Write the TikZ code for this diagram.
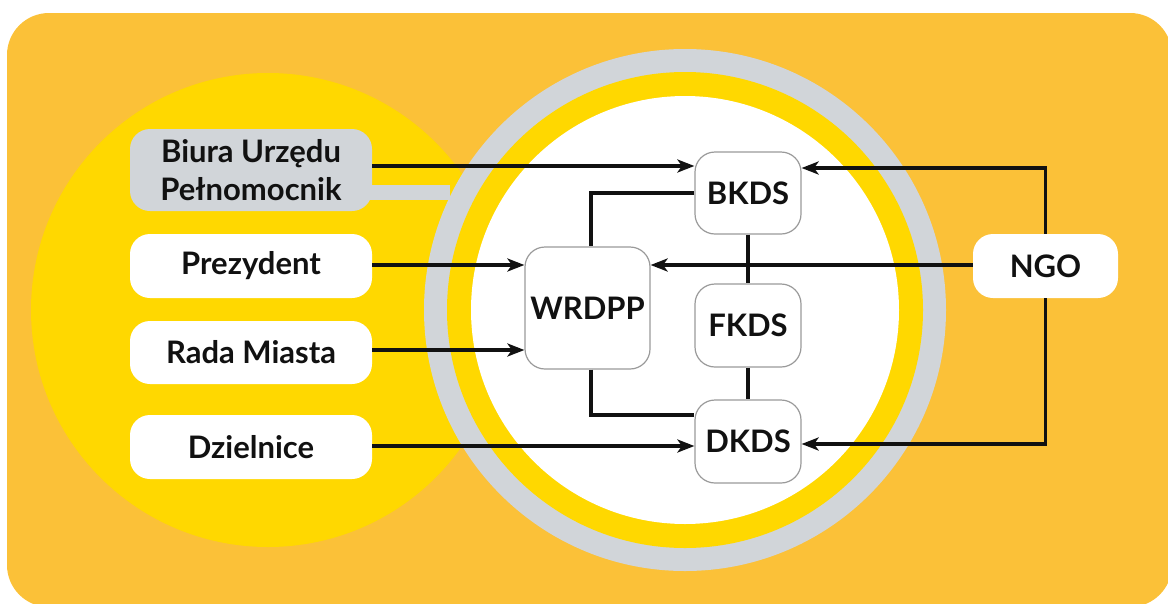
\documentclass[tikz,border=0pt]{standalone}
\usepackage{fontspec}
\setmainfont{Lato}
\usetikzlibrary{arrows.meta}
\definecolor{bgorange}{HTML}{FBC138}
\definecolor{ylw}{HTML}{FFD800}
\definecolor{ringgray}{HTML}{D1D5D9}
\definecolor{bordergray}{HTML}{9A9A9A}
\definecolor{txt}{HTML}{111111}
\begin{document}
\begin{tikzpicture}[x=1pt,y=-1pt,
  lbl/.style={font=\fontsize{31}{38}\selectfont\bfseries, text=txt, align=center, inner sep=0pt},
  leftbox/.style={lbl, fill=white, rounded corners=20pt, minimum width=242pt},
  graybox/.style={leftbox, fill=ringgray},
  midbox/.style={lbl, fill=white, draw=bordergray, line width=1.2pt, rounded corners=20pt},
  conn/.style={line width=3.2pt, draw=txt},
  arr/.style={conn, -{Stealth[length=17pt,width=13pt,inset=4.5pt]}}
]
\useasboundingbox (0,0) rectangle (1168,603);
% background
\fill[bgorange, rounded corners=42pt] (7,13) rectangle (1172,607);
% left yellow circle
\fill[ylw] (268,310) circle[radius=237pt];
% gray band connecting Biura to ring
\fill[ringgray] (350,185) rectangle (450,200);
% big ring
\fill[ringgray] (685,310) circle[radius=261pt];
\fill[ylw] (685,310) circle[radius=238pt];
\fill[white] (685,310) circle[radius=214pt];

% left boxes
\node[graybox, minimum height=82pt] (biura) at (251,170) {Biura Urzędu\\Pełnomocnik};
\node[leftbox, minimum height=64pt] (prez) at (251,266) {Prezydent};
\node[leftbox, minimum height=63pt] (rada) at (251,352.5) {Rada Miasta};
\node[leftbox, minimum height=64pt] (dziel) at (251,447) {Dzielnice};

% central boxes
\node[midbox, minimum width=106pt, minimum height=82pt] (bkds) at (748,193) {BKDS};
\node[midbox, minimum width=125pt, minimum height=122pt] (wrdpp) at (587.5,308) {WRDPP};
\node[midbox, minimum width=106pt, minimum height=83pt] (fkds) at (748,325.5) {FKDS};
\node[midbox, minimum width=106pt, minimum height=83pt] (dkds) at (748,441.5) {DKDS};
\node[leftbox, minimum width=145pt, minimum height=64pt] (ngo) at (1045.5,266) {NGO};

% connectors
\draw[arr] (biura.east |- 0,166) -- (bkds.west |- 0,166);
\draw[arr] (prez.east |- 0,265) -- (wrdpp.west |- 0,265);
\draw[arr] (rada.east |- 0,350) -- (wrdpp.west |- 0,350);
\draw[arr] (dziel.east |- 0,446) -- (dkds.west |- 0,446);
\draw[conn] (bkds.west |- 0,193) -| ([xshift=3.5pt]wrdpp.north);
\draw[conn] ([xshift=3.5pt]wrdpp.south) |- (dkds.west |- 0,415);
\draw[conn] (bkds.south) -- (fkds.north);
\draw[conn] (fkds.south) -- (dkds.north);
\draw[arr] (ngo.west |- 0,265) -- (wrdpp.east |- 0,265);
\draw[arr] (ngo.north) |- (bkds.east |- 0,168);
\draw[arr] (ngo.south) |- (dkds.east |- 0,444);
\end{tikzpicture}
\end{document}
